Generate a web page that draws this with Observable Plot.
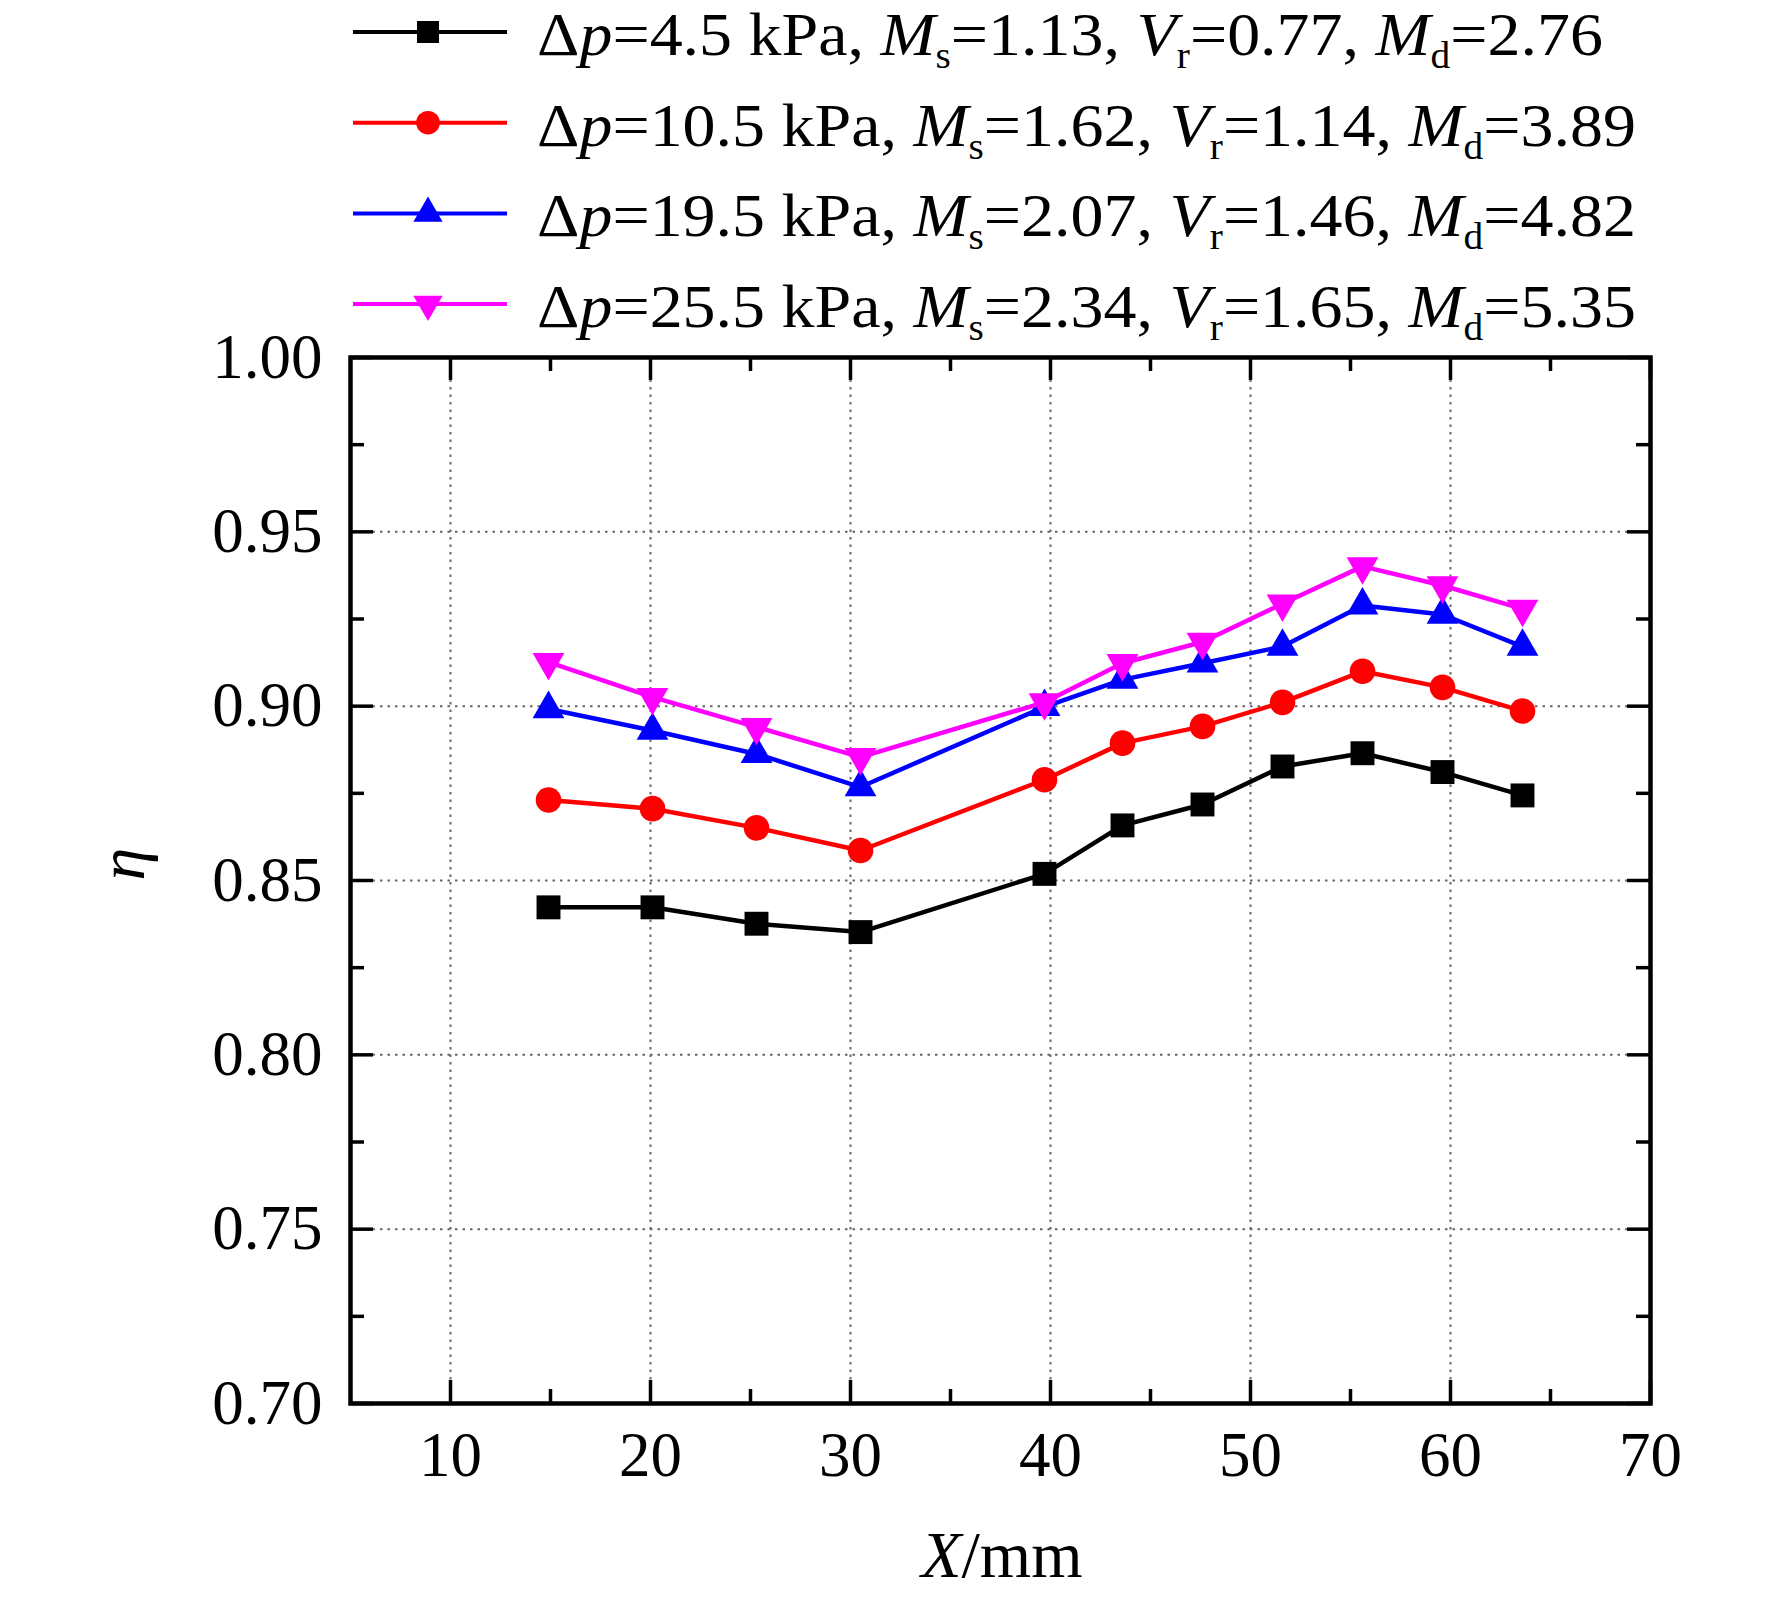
<!DOCTYPE html>
<html>
<head>
<meta charset="utf-8">
<script src="https://cdn.jsdelivr.net/npm/d3@7"></script>
<script src="https://cdn.jsdelivr.net/npm/@observablehq/plot@0.6"></script>
<style>
html, body { margin: 0; padding: 0; background: #fff; }
svg { display: block; }
</style>
</head>
<body>
<script>
// ---- data ----
const xPositions = [14.9, 20.1, 25.3, 30.5, 39.7, 43.6, 47.6, 51.6, 55.6, 59.6, 63.6];
const eta_4_5  = [0.8423, 0.8423, 0.8376, 0.8352, 0.8519, 0.8658, 0.8718, 0.8827, 0.8865, 0.8811, 0.8744];
const eta_10_5 = [0.8731, 0.8706, 0.8651, 0.8586, 0.8789, 0.8894, 0.8942, 0.9011, 0.9100, 0.9054, 0.8986];
const eta_19_5 = [0.8992, 0.8930, 0.8863, 0.8768, 0.8998, 0.9076, 0.9123, 0.9171, 0.9289, 0.9263, 0.9171];
const eta_25_5 = [0.9126, 0.9026, 0.8940, 0.8854, 0.9011, 0.9123, 0.9184, 0.9294, 0.9401, 0.9346, 0.9279];

const legendDp = ["4.5", "10.5", "19.5", "25.5"];
const legendMs = ["1.13", "1.62", "2.07", "2.34"];
const legendVr = ["0.77", "1.14", "1.46", "1.65"];
const legendMd = ["2.76", "3.89", "4.82", "5.35"];

const xTicks = [10, 20, 30, 40, 50, 60, 70];
const xMinorTicks = [15, 25, 35, 45, 55, 65];
const yTicks = [0.70, 0.75, 0.80, 0.85, 0.90, 0.95, 1.00];
const yMinorTicks = [0.725, 0.775, 0.825, 0.875, 0.925, 0.975];

// ---- styling ----
const seriesValues = [eta_4_5, eta_10_5, eta_19_5, eta_25_5];
const colors = ["#000000", "#ff0000", "#0000ff", "#ff00ff"];
const triangleDown = {
  draw(context, size) {
    const y = -Math.sqrt(size / (Math.sqrt(3) * 3));
    context.moveTo(0, -y * 2);
    context.lineTo(-Math.sqrt(3) * y, y);
    context.lineTo(Math.sqrt(3) * y, y);
    context.closePath();
  }
};
const plotSymbols = ["square", "circle", "triangle", triangleDown];
const d3Symbols = [d3.symbolSquare, d3.symbolCircle, d3.symbolTriangle, triangleDown];
const radii = [13.5, 12.8, 11.8, 11.8];

const serif = '"Liberation Serif", "Times New Roman", serif';

// ---- legend (above the plot) ----
const legend = d3.create("svg")
  .attr("width", 1772).attr("height", 320)
  .style("font-family", serif)
  .style("overflow", "visible")
  .style("position", "relative")
  .style("z-index", "1");
document.body.append(legend.node());

const texts = [];
legendDp.forEach((dp, i) => {
  const cy = 32 + i * 90.7;
  const g = legend.append("g");
  g.append("line")
    .attr("x1", 353).attr("x2", 507).attr("y1", cy).attr("y2", cy)
    .attr("stroke", colors[i]).attr("stroke-width", 4);
  g.append("path")
    .attr("transform", `translate(428,${cy})`)
    .attr("d", d3.symbol(d3Symbols[i], Math.PI * radii[i] * radii[i] * 0.85)())
    .attr("fill", colors[i]);
  const t = g.append("text")
    .attr("x", 0).attr("y", 0)
    .attr("font-size", 62)
    .attr("fill", "#000")
    .style("white-space", "pre")
    .attr("data-cy", cy);
  const segs = [
    {t: "\u0394"}, {t: "p", it: true}, {t: "=" + dp + " kPa, "},
    {t: "M", it: true}, {t: "s", sub: true}, {t: "=" + legendMs[i] + ", "},
    {t: "V", it: true}, {t: "r", sub: true}, {t: "=" + legendVr[i] + ", "},
    {t: "M", it: true}, {t: "d", sub: true}, {t: "=" + legendMd[i]}
  ];
  let prevSub = false;
  segs.forEach(s => {
    const ts = t.append("tspan").text(s.t);
    if (s.it) ts.attr("font-style", "italic");
    if (s.sub) { ts.attr("font-size", 37).attr("dy", 13); prevSub = true; }
    else if (prevSub) { ts.attr("dy", -13); prevSub = false; }
  });
  texts.push(t);
});
const natural = texts[0].node().getComputedTextLength();
const kx = 1066 / natural;
texts.forEach(t => {
  const cy = +t.attr("data-cy");
  t.attr("transform", `translate(537,${cy + 23}) scale(${kx},1)`);
});

// ---- chart ----
const W = 1772, H = 1278, mt = 37, mb = 195, ml = 350, mr = 122;
const pw = W - ml - mr, ph = H - mt - mb;

const rows = seriesValues.map((vals, s) => xPositions.map((x, j) => ({x, eta: vals[j], s})));

const gridStyle = {stroke: "#666", strokeOpacity: 1, strokeWidth: 2, strokeDasharray: "2.5,5"};
const tickStyle = {stroke: "#000", strokeWidth: 3.5};

const marks = [
  Plot.gridX(xTicks.filter(d => d > 5 && d < 70), gridStyle),
  Plot.gridY(yTicks.filter(d => d > 0.70 && d < 1.0), gridStyle)
];
rows.forEach((data, s) => {
  marks.push(Plot.line(data, {x: "x", y: "eta", stroke: colors[s], strokeWidth: 4.5}));
  marks.push(Plot.dot(data, {x: "x", y: "eta", symbol: plotSymbols[s], r: radii[s], fill: colors[s], stroke: "none"}));
});
marks.push(
  Plot.tickX(xTicks, {x: d => d, insetTop: ph - 23, ...tickStyle}),
  Plot.tickX(xTicks, {x: d => d, insetBottom: ph - 23, ...tickStyle}),
  Plot.tickX(xMinorTicks, {x: d => d, insetTop: ph - 14, ...tickStyle}),
  Plot.tickX(xMinorTicks, {x: d => d, insetBottom: ph - 14, ...tickStyle}),
  Plot.tickY(yTicks, {y: d => d, insetRight: pw - 23, ...tickStyle}),
  Plot.tickY(yTicks, {y: d => d, insetLeft: pw - 23, ...tickStyle}),
  Plot.tickY(yMinorTicks, {y: d => d, insetRight: pw - 14, ...tickStyle}),
  Plot.tickY(yMinorTicks, {y: d => d, insetLeft: pw - 14, ...tickStyle}),
  Plot.axisX(xTicks, {tickSize: 0, tickPadding: 28, label: null, fontSize: 63, tickFormat: d => String(d)}),
  Plot.axisY(yTicks, {tickSize: 0, tickPadding: 28, label: null, fontSize: 63, tickFormat: d3.format(".2f")}),
  Plot.frame({stroke: "#000", strokeWidth: 4.5}),
  Plot.text(["\u03b7"], {text: d => d, frameAnchor: "left", dx: -228, rotate: -90, fontStyle: "italic", fontSize: 66, lineAnchor: "middle"}),
  Plot.text(["X"], {text: d => d, frameAnchor: "bottom", textAnchor: "end", dx: -39, dy: 152, fontStyle: "italic", fontSize: 66, lineAnchor: "middle"}),
  Plot.text(["/mm"], {text: d => d, frameAnchor: "bottom", textAnchor: "start", dx: -39, dy: 152, fontSize: 66, lineAnchor: "middle"})
);

const chart = Plot.plot({
  width: W, height: H,
  marginTop: mt, marginBottom: mb, marginLeft: ml, marginRight: mr,
  style: {fontFamily: serif, fontSize: "63px", background: "transparent", color: "#000", overflow: "visible"},
  x: {domain: [5, 70]},
  y: {domain: [0.70, 1.00]},
  marks
});
document.body.append(chart);
</script>
</body>
</html>
